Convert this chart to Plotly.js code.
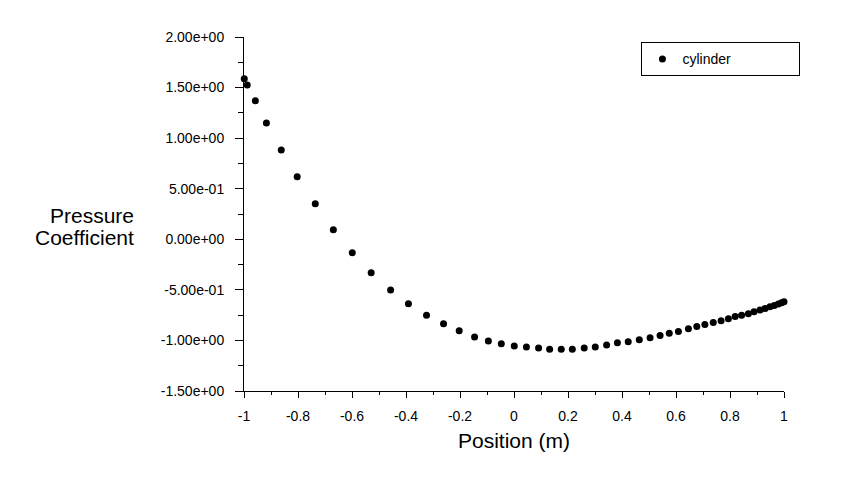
<!DOCTYPE html>
<html>
<head>
<meta charset="utf-8">
<script src="https://cdn.plot.ly/plotly-3.0.1.min.js"></script>
<style>
	html, body { margin: 0; padding: 0; background: white; }
	#chart { width: 842px; height: 485px; }
</style>
</head>
<body>
<div id="chart"></div>
<script>
// values
const positionM = [
	-0.999, -0.988, -0.958, -0.917, -0.862, -0.803, -0.736, -0.669, -0.599, -0.529,
	-0.457, -0.391, -0.324, -0.261, -0.203, -0.146, -0.095, -0.047, 0.001, 0.046,
	0.091, 0.132, 0.175, 0.216, 0.260, 0.301, 0.343, 0.383, 0.423, 0.464,
	0.504, 0.541, 0.575, 0.609, 0.646, 0.677, 0.707, 0.738, 0.767, 0.794,
	0.819, 0.843, 0.868, 0.889, 0.911, 0.930, 0.948, 0.964, 0.979, 0.991, 1.000
]
const pressureCoef = [
	1.587, 1.525, 1.370, 1.149, 0.882, 0.618, 0.351, 0.094, -0.134, -0.331,
	-0.501, -0.638, -0.750, -0.836, -0.905, -0.966, -1.006, -1.034, -1.056, -1.066,
	-1.076, -1.086, -1.086, -1.086, -1.076, -1.066, -1.044, -1.024, -1.014, -0.994,
	-0.974, -0.952, -0.928, -0.912, -0.885, -0.863, -0.843, -0.823, -0.806, -0.786,
	-0.764, -0.750, -0.737, -0.717, -0.700, -0.684, -0.668, -0.655, -0.641, -0.628, -0.618
]

const xTickVals = [-1, -0.8, -0.6, -0.4, -0.2, 0, 0.2, 0.4, 0.6, 0.8, 1]
const xTickLabels = ["-1", "-0.8", "-0.6", "-0.4", "-0.2", "0", "0.2", "0.4", "0.6", "0.8", "1"]
const yTickVals = [-1.5, -1, -0.5, 0, 0.5, 1, 1.5, 2]
const yTickLabels = ["-1.50e+00", "-1.00e+00", "-5.00e-01", "0.00e+00", "5.00e-01", "1.00e+00", "1.50e+00", "2.00e+00"]

const font_family = "Liberation Sans, Arial, sans-serif"

var trace = {
	x: positionM,
	y: pressureCoef,
	type: "scatter",
	mode: "markers",
	name: "cylinder",
	cliponaxis: false,
	marker: {
		color: "black",
		size: 7,
		symbol: "circle"
	}
}

var tick_font = { family: font_family, size: 14, color: "black" }

var layout = {
	width: 842,
	height: 485,
	margin: { l: 244, r: 58, t: 37, b: 94, pad: 0 },
	paper_bgcolor: "white",
	plot_bgcolor: "white",
	font: { family: font_family, color: "black", size: 14 },
	showlegend: true,
	legend: {
		orientation: "h",
		x: 0.736,
		y: 0.985,
		xanchor: "left",
		yanchor: "top",
		bordercolor: "black",
		borderwidth: 1,
		bgcolor: "white",
		font: { family: font_family, size: 14, color: "black" },
		entrywidthmode: "pixels",
		entrywidth: 112
	},
	xaxis: {
		range: [-1, 1],
		tickmode: "array",
		tickvals: xTickVals,
		ticktext: xTickLabels,
		tickfont: tick_font,
		ticks: "outside",
		ticklen: 6,
		tickcolor: "black",
		ticklabelstandoff: 6,
		showline: true,
		linecolor: "black",
		linewidth: 1,
		showgrid: false,
		zeroline: false,
		minor: {
			tickmode: "linear",
			tick0: -1,
			dtick: 0.1,
			ticks: "outside",
			ticklen: 3,
			tickcolor: "black",
			showgrid: false
		},
		title: {
			text: "Position (m)",
			font: { family: font_family, size: 21, color: "black" },
			standoff: 10
		}
	},
	yaxis: {
		range: [-1.5, 2],
		tickmode: "array",
		tickvals: yTickVals,
		ticktext: yTickLabels,
		tickfont: tick_font,
		ticks: "outside",
		ticklen: 8,
		tickcolor: "black",
		ticklabelstandoff: 8,
		showline: true,
		linecolor: "black",
		linewidth: 1,
		showgrid: false,
		zeroline: false,
		minor: {
			tickmode: "linear",
			tick0: -1.5,
			dtick: 0.25,
			ticks: "outside",
			ticklen: 5,
			tickcolor: "black",
			showgrid: false
		}
	},
	annotations: [
		{
			text: "Pressure",
			xref: "paper", yref: "paper",
			x: -0.2, y: 0.4944,
			xanchor: "right", yanchor: "middle",
			showarrow: false,
			font: { family: font_family, size: 21, color: "black" }
		},
		{
			text: "Coefficient",
			xref: "paper", yref: "paper",
			x: -0.2, y: 0.435,
			xanchor: "right", yanchor: "middle",
			showarrow: false,
			font: { family: font_family, size: 21, color: "black" }
		}
	]
}

var config = {
	displayModeBar: false,
	staticPlot: true
}

Plotly.newPlot("chart", [trace], layout, config)
</script>
</body>
</html>
